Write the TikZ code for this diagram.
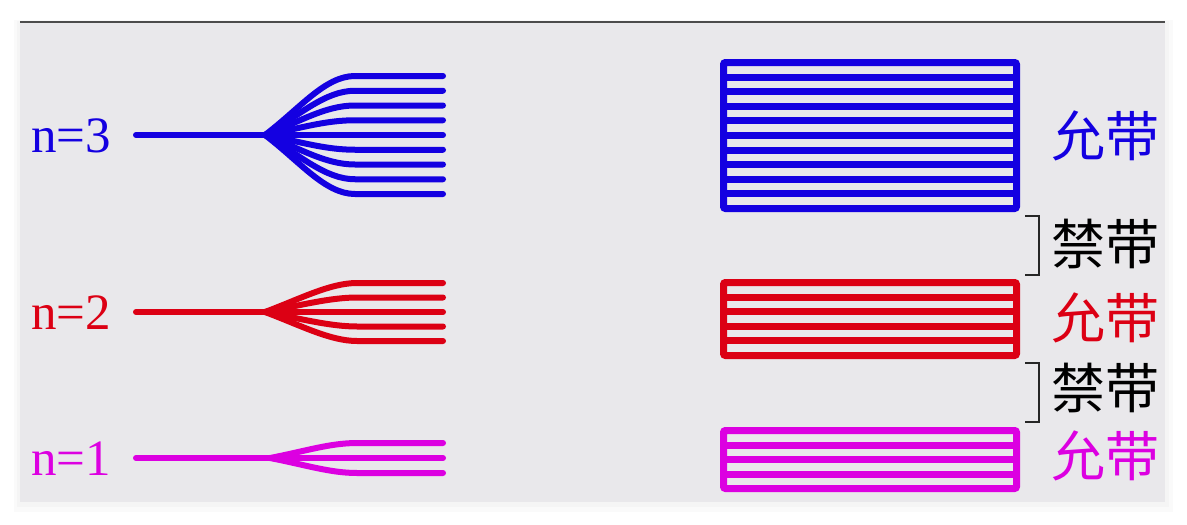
\documentclass[tikz,border=0pt]{standalone}
\usepackage{fontspec}
\setmainfont{Liberation Serif}
\newfontfamily\cjk{Noto Sans CJK SC}
\definecolor{bandblue}{RGB}{20,0,225}
\definecolor{bandred}{RGB}{220,0,20}
\definecolor{bandmag}{RGB}{220,0,225}
\definecolor{panel}{RGB}{233,232,235}
\tikzset{
  level/.style={line width=6pt, line cap=round},
  band/.style={line width=7pt, rounded corners=2pt},
  inner/.style={line width=7pt},
  nlabel/.style={font=\fontsize{51}{51}\selectfont, anchor=west, inner sep=0pt},
  bandtxt/.style={font=\cjk\fontsize{54}{54}\selectfont, inner sep=0pt},
  gapmark/.style={line width=1.3pt, black!85}
}
\begin{document}
\begin{tikzpicture}[x=1pt, y=-1pt]
\useasboundingbox (0,0) rectangle (1187,525);
\fill[black!2] (14,20) rectangle (1173,512);
\fill[black!4] (17,21) rectangle (1169,507);
\fill[panel] (20,22) rectangle (1165,502);
\draw[line width=1.2pt, black!70] (20,22) -- (1165,22);

\node[nlabel, bandblue] (n3) at (31,136) {n=3};
\node[nlabel, bandred] (n2) at (31,313) {n=2};
\node[nlabel, bandmag] (n1) at (31,459) {n=1};

\draw[level, bandblue] (136,135) -- (265,135);
\foreach \k in {1,...,9}{
  \pgfmathsetmacro\yy{135+(\k-5)*14.75}
  \draw[level, bandblue] (265,135) .. controls (300,{135+0.45*(\yy-135)}) and (325,\yy) .. (355,\yy) -- (443,\yy);
}
\draw[level, bandred] (136,312) -- (265,312);
\foreach \k in {1,...,5}{
  \pgfmathsetmacro\yy{312+(\k-3)*14.5}
  \draw[level, bandred] (265,312) .. controls (300,{312+0.45*(\yy-312)}) and (330,\yy) .. (357,\yy) -- (443,\yy);
}
\draw[level, bandmag] (136,458) -- (270,458);
\foreach \k in {1,...,3}{
  \pgfmathsetmacro\yy{458+(\k-2)*15}
  \draw[level, bandmag] (270,458) .. controls (305,{458+0.45*(\yy-458)}) and (330,\yy) .. (357,\yy) -- (443,\yy);
}

\draw[band, bandblue] (723.5,62.5) rectangle (1016.5,208.5);
\foreach \k in {1,...,9}
  \draw[inner, bandblue] (723.5,{62.5+\k*14.6}) -- (1016.5,{62.5+\k*14.6});
\draw[band, bandred] (723.5,282.5) rectangle (1016.5,355.5);
\foreach \k in {1,...,4}
  \draw[inner, bandred] (723.5,{282.5+\k*14.6}) -- (1016.5,{282.5+\k*14.6});
\draw[band, bandmag] (723.5,430.5) rectangle (1016.5,488.5);
\foreach \k in {1,...,3}
  \draw[inner, bandmag] (723.5,{430.5+\k*14.5}) -- (1016.5,{430.5+\k*14.5});

\node[bandtxt, bandblue] (a3) at (1105,136) {允带};
\node[bandtxt] (f2) at (1105,244) {禁带};
\node[bandtxt, bandred] (a2) at (1105,318) {允带};
\node[bandtxt] (f1) at (1105,388) {禁带};
\node[bandtxt, bandmag] (a1) at (1105,456) {允带};

\draw[gapmark] (1025,216) -- (1039,216) -- (1039,275) -- (1025,275);
\draw[gapmark] (1025,363) -- (1039,363) -- (1039,422) -- (1025,422);
\end{tikzpicture}
\end{document}
